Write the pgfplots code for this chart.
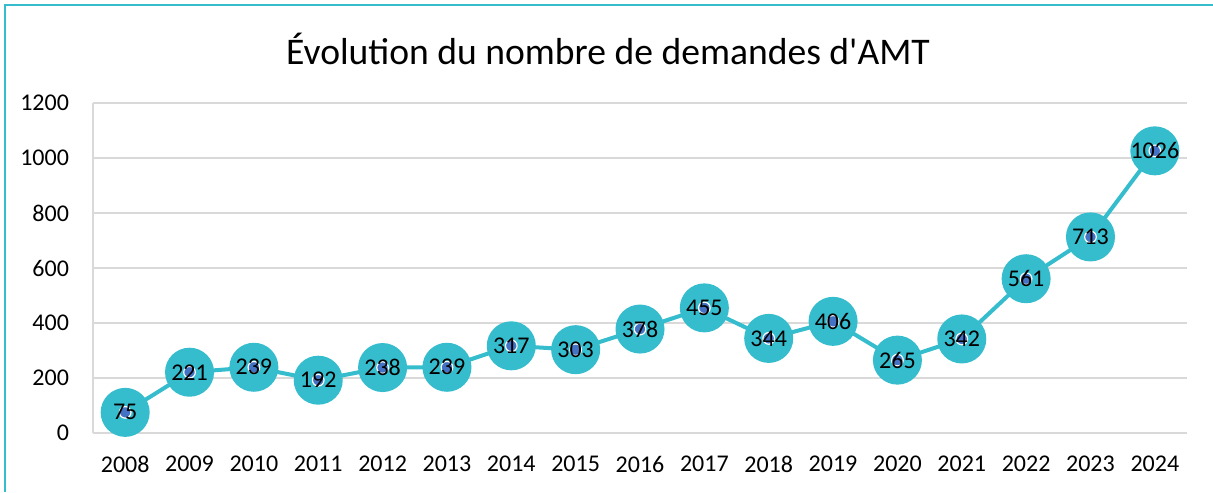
\documentclass[border=0pt]{standalone}
\usepackage{pgfplots}
\pgfplotsset{compat=1.18}
\usepackage{fontspec}
\setmainfont{Carlito}
\definecolor{markcyan}{RGB}{53,189,206}
\definecolor{dotblue}{RGB}{68,114,196}
\definecolor{gridgray}{RGB}{217,217,217}
\begin{document}
\begin{tikzpicture}
\path[use as bounding box] (0,0) rectangle (606.5pt,246pt);
% frame on the left and top edges (pixel coords halved)
\draw[markcyan, line width=1pt] (2.5pt,0pt) -- (2.5pt,243.5pt) -- (606.5pt,243.5pt);
\node[font=\fontsize{18.8}{22}\selectfont] at (304pt,221.5pt) {Évolution du nombre de demandes d\textquotesingle AMT};
\begin{axis}[
    at={(46.5pt,29.5pt)}, anchor=south west,
    scale only axis, width=547pt, height=165pt,
    xmin=-0.5, xmax=16.5, ymin=0, ymax=1200,
    ytick distance=200,
    xtick={0,...,16},
    xticklabels={2008,2009,2010,2011,2012,2013,2014,2015,2016,2017,2018,2019,2020,2021,2022,2023,2024},
    axis x line*=bottom, axis y line*=left,
    axis line style={draw=gridgray, line width=0.8pt, -},
    ymajorgrids, grid style={draw=gridgray, line width=0.8pt},
    major tick length=0pt,
    tick label style={font=\fontsize{12}{14}\selectfont},
    /pgf/number format/assume math mode=true,
    /pgf/number format/1000 sep={},
    xticklabel style={yshift=-8pt},
    yticklabel style={xshift=-8.5pt},
    clip=false,
]
\addplot[markcyan, line width=2pt, mark=*, mark size=11.25pt, mark options={fill=markcyan, draw=markcyan}]
  coordinates {(0,75) (1,221) (2,239) (3,192) (4,238) (5,239) (6,317) (7,303) (8,378) (9,455) (10,344) (11,406) (12,265) (13,342) (14,561) (15,713) (16,1026)};
\addplot[only marks, mark=*, mark size=2.9pt, mark options={fill=dotblue, draw=white, line width=0.6pt},
    nodes near coords, nodes near coords align={center},
    every node near coord/.append style={anchor=center, black, font=\fontsize{12}{14}\selectfont}]
  coordinates {(0,75) (1,221) (2,239) (3,192) (4,238) (5,239) (6,317) (7,303) (8,378) (9,455) (10,344) (11,406) (12,265) (13,342) (14,561) (15,713) (16,1026)};
\end{axis}
\end{tikzpicture}
\end{document}
